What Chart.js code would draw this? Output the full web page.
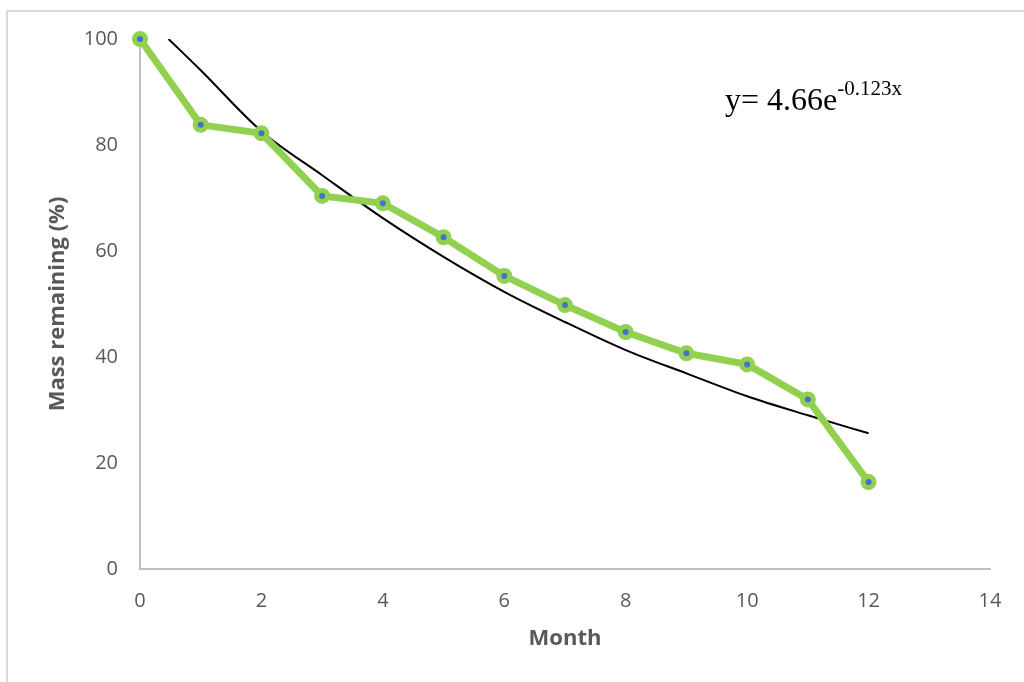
<!DOCTYPE html>
<html>
<head>
<meta charset="utf-8">
<script src="https://cdn.jsdelivr.net/npm/chart.js@4.4.1/dist/chart.umd.min.js"></script>
<style>
    html, body { margin: 0; padding: 0; background: #fff; overflow: hidden; }
    #wrap { position: relative; width: 1024px; height: 682px; }
    #frame {
        position: absolute; left: 6px; top: 10px; width: 1100px; height: 700px;
        border-left: 2px solid #d9d9d9; border-top: 2px solid #d9d9d9;
    }
    #equation {
        position: absolute; left: 725px; top: 79px;
        font-family: "Liberation Serif", "Times New Roman", serif;
        font-size: 32px; color: #000; white-space: nowrap;
    }
    #equation sup { font-size: 21px; position: relative; top: -3px; }
</style>
</head>
<body>
<div id="wrap">
    <div id="frame"></div>
    <canvas id="myChart" width="1024" height="682"></canvas>
    <div id="equation">y= 4.66e<sup>-0.123x</sup></div>
</div>
<script>
// 측정 데이터 (월별 잔존 질량 %)
const months = [0, 1, 2, 3, 4, 5, 6, 7, 8, 9, 10, 11, 12];
const massRemaining = [100, 83.8, 82.2, 70.4, 69.0, 62.6, 55.3, 49.8, 44.7, 40.7, 38.6, 32.0, 16.4];

// 추세선
const trendMonths = [0.47, 1, 2, 3, 4, 5, 6, 7, 8, 9, 10, 11, 12];
const trendValues = [100, 94.1, 82.6, 74.3, 66.2, 58.9, 52.3, 46.6, 41.3, 36.9, 32.6, 29.0, 25.6];

const xTicks = [0, 2, 4, 6, 8, 10, 12, 14];
const yTicks = [0, 20, 40, 60, 80, 100];

const tickFont = { family: "Open Sans", size: 20 };
const titleFont = { family: "Open Sans", size: 22, weight: 'bold' };

const ctx = document.getElementById('myChart').getContext('2d');
new Chart(ctx, {
    type: 'line',
    data: {
        datasets: [{
            label: 'Trend',
            data: trendMonths.map((m, i) => ({ x: m, y: trendValues[i] })),
            borderColor: '#000000',
            borderWidth: 2,
            pointRadius: 0,
            cubicInterpolationMode: 'monotone',
            order: 2
        }, {
            label: 'Mass remaining',
            data: months.map((m, i) => ({ x: m, y: massRemaining[i] })),
            borderColor: '#92d050',
            borderWidth: 7,
            pointRadius: 5.5,
            pointBorderWidth: 5,
            pointBorderColor: '#92d050',
            pointBackgroundColor: '#4472c4',
            tension: 0,
            clip: false,
            order: 1
        }]
    },
    options: {
        responsive: false,
        animation: false,
        layout: { padding: { left: 0, right: 34, top: 39, bottom: 0 } },
        plugins: {
            legend: { display: false },
            tooltip: { enabled: false }
        },
        scales: {
            x: {
                type: 'linear',
                min: 0,
                max: 14,
                afterBuildTicks: scale => { scale.ticks = xTicks.map(v => ({ value: v })); },
                afterFit: scale => { scale.height = 113; },
                grid: { display: false, drawTicks: false },
                border: { display: true, color: '#bfbfbf', width: 2 },
                ticks: { color: '#595959', font: tickFont, padding: 20, maxRotation: 0 },
                title: {
                    display: true, text: 'Month', color: '#595959', font: titleFont,
                    padding: { top: 30, bottom: 30 }
                }
            },
            y: {
                min: 0,
                max: 100,
                afterBuildTicks: scale => { scale.ticks = yTicks.map(v => ({ value: v })); },
                afterFit: scale => { scale.width = 140; },
                grid: { display: false, drawTicks: false },
                border: { display: true, color: '#bfbfbf', width: 2 },
                ticks: { color: '#595959', font: tickFont, padding: 22 },
                title: {
                    display: true, text: 'Mass remaining (%)', color: '#595959', font: titleFont,
                    padding: { top: 45, bottom: 45 }
                }
            }
        }
    }
});
</script>
</body>
</html>
